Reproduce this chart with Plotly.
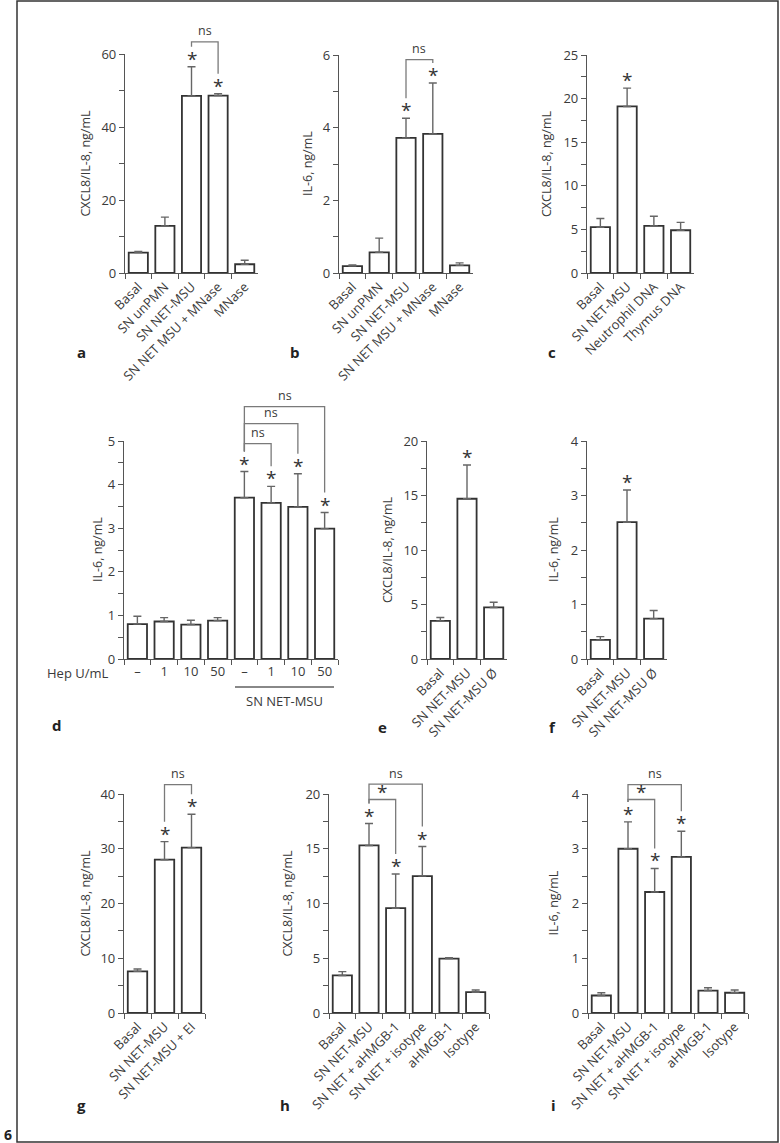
import plotly.graph_objects as go

W, H = 780, 1143

# ---------------- data ----------------
a_cats = ["Basal", "SN unPMN", "SN NET-MSU", "SN NET MSU + MNase", "MNase"]
a_vals = [5.6, 12.9, 48.5, 48.6, 2.4]
a_errs = [0.3, 2.4, 8.0, 0.5, 1.1]
a_sig = [0, 0, 1, 1, 0]

b_cats = ["Basal", "SN unPMN", "SN NET-MSU", "SN NET MSU + MNase", "MNase"]
b_vals = [0.19, 0.57, 3.72, 3.83, 0.21]
b_errs = [0.03, 0.39, 0.54, 1.40, 0.07]
b_sig = [0, 0, 1, 1, 0]

c_cats = ["Basal", "SN NET-MSU", "Neutrophil DNA", "Thymus DNA"]
c_vals = [5.25, 19.1, 5.4, 4.9]
c_errs = [1.0, 2.1, 1.1, 0.9]
c_sig = [0, 1, 0, 0]

d_cats = ["–", "1", "10", "50", "–", "1", "10", "50"]
d_vals = [0.80, 0.86, 0.79, 0.88, 3.70, 3.58, 3.49, 2.99]
d_errs = [0.18, 0.09, 0.10, 0.07, 0.60, 0.38, 0.76, 0.37]
d_sig = [0, 0, 0, 0, 1, 1, 1, 1]

e_cats = ["Basal", "SN NET-MSU", "SN NET-MSU Ø"]
e_vals = [3.5, 14.7, 4.73]
e_errs = [0.31, 3.1, 0.47]
e_sig = [0, 1, 0]

f_cats = ["Basal", "SN NET-MSU", "SN NET-MSU Ø"]
f_vals = [0.35, 2.51, 0.74]
f_errs = [0.06, 0.59, 0.15]
f_sig = [0, 1, 0]

g_cats = ["Basal", "SN NET-MSU", "SN NET-MSU + EI"]
g_vals = [7.6, 28.0, 30.2]
g_errs = [0.45, 3.3, 6.1]
g_sig = [0, 1, 1]

h_cats = ["Basal", "SN NET-MSU", "SN NET + aHMGB-1", "SN NET + isotype", "aHMGB-1", "Isotype"]
h_vals = [3.43, 15.3, 9.57, 12.5, 4.97, 1.9]
h_errs = [0.35, 2.0, 3.13, 2.7, 0.08, 0.2]
h_sig = [0, 1, 1, 1, 0, 0]

i_cats = ["Basal", "SN NET-MSU", "SN NET + aHMGB-1", "SN NET + isotype", "aHMGB-1", "Isotype"]
i_vals = [0.32, 3.0, 2.21, 2.85, 0.41, 0.37]
i_errs = [0.05, 0.49, 0.43, 0.47, 0.05, 0.05]
i_sig = [0, 1, 1, 1, 0, 0]

# brackets: (left bar, right bar, label, bracket height in data units)
a_brk = [(2, 3, "ns", 63.3)]
b_brk = [(2, 3, "ns", 5.87)]
d_brk = [(4, 5, "ns", 4.94), (4, 6, "ns", 5.40), (4, 7, "ns", 5.79)]
g_brk = [(1, 2, "ns", 41.7)]
h_brk = [(1, 3, "ns", 20.9), (1, 2, "*", 19.5)]
i_brk = [(1, 3, "ns", 4.17), (1, 2, "*", 3.90)]

y_titles = {"a": "CXCL8/IL-8, ng/mL", "b": "IL-6, ng/mL", "c": "CXCL8/IL-8, ng/mL",
            "d": "IL-6, ng/mL", "e": "CXCL8/IL-8, ng/mL", "f": "IL-6, ng/mL",
            "g": "CXCL8/IL-8, ng/mL", "h": "CXCL8/IL-8, ng/mL", "i": "IL-6, ng/mL"}

# ---------------- layout geometry (pixels) ----------------
# name: (x0, x1, ytop, ybottom, ymax, major, minor, ytitle_x, letter_x, letter_y)
geom = {
    "a": (125, 258, 54, 273, 60, 20, 10, 85, 81, 352),
    "b": (339, 473, 55, 273, 6, 2, 1, 307, 295, 352),
    "c": (587, 694, 55, 273, 25, 5, 2.5, 546, 552, 352),
    "d": (124, 338, 441, 659, 5, 1, 0.5, 97, 57, 725),
    "e": (427, 507, 441, 659, 20, 5, 2.5, 387, 382, 727),
    "f": (587, 667, 441, 659, 4, 1, 0.5, 553, 552, 727),
    "g": (124, 205, 794, 1013, 40, 10, 5, 85, 81, 1105),
    "h": (329, 489, 794, 1013, 20, 5, 2.5, 287, 285, 1105),
    "i": (588, 748, 794, 1013, 4, 1, 0.5, 553, 553, 1105),
}

panels = [
    ("a", a_cats, a_vals, a_errs, a_sig, a_brk),
    ("b", b_cats, b_vals, b_errs, b_sig, b_brk),
    ("c", c_cats, c_vals, c_errs, c_sig, []),
    ("d", d_cats, d_vals, d_errs, d_sig, d_brk),
    ("e", e_cats, e_vals, e_errs, e_sig, []),
    ("f", f_cats, f_vals, f_errs, f_sig, []),
    ("g", g_cats, g_vals, g_errs, g_sig, g_brk),
    ("h", h_cats, h_vals, h_errs, h_sig, h_brk),
    ("i", i_cats, i_vals, i_errs, i_sig, i_brk),
]

FONT = "Open Sans"
TXT = "#3a3a3a"
AXC = "#555555"
BRC = "#7a7a7a"
TICK_SIZE = 13


def px(x):
    return x / W


def py(y):
    return 1 - y / H


def unique_labels(labels):
    seen = {}
    out = []
    for lab in labels:
        n = seen.get(lab, 0)
        out.append(lab + "\u200b" * n)
        seen[lab] = n + 1
    return out


fig = go.Figure()
annotations = []
shapes = []
layout_axes = {}

for k, (name, cats, vals, errs, sig, brks) in enumerate(panels, start=1):
    x0, x1, ytop, ybot, ymax, major, minor, ytx, lx, ly = geom[name]
    xs = unique_labels(cats)
    suf = "" if k == 1 else str(k)
    xa, ya = "x" + suf, "y" + suf
    pxu = (ybot - ytop) / ymax  # pixels per data unit
    fig.add_trace(go.Bar(
        x=xs, y=vals, xaxis=xa, yaxis=ya, width=0.72,
        marker=dict(color="white", line=dict(color="#333333", width=1.8)),
        error_y=dict(type="data", array=errs, arrayminus=[0] * len(errs), symmetric=False,
                     color="#666666", thickness=1.4, width=4),
        showlegend=False, hoverinfo="skip",
    ))
    layout_axes["xaxis" + suf] = dict(
        domain=[px(x0), px(x1)], anchor=ya, type="category", tickson="boundaries",
        range=[-0.5, len(cats) - 0.5], ticks="outside", ticklen=5, tickwidth=1.2,
        tickcolor=AXC, showline=True, linecolor=AXC, linewidth=1.3, showgrid=False,
        zeroline=False, automargin=False,
        tickangle=0 if name == "d" else -45,
        tickfont=dict(family=FONT, size=TICK_SIZE, color=TXT), fixedrange=True,
    )
    layout_axes["yaxis" + suf] = dict(
        domain=[py(ybot), py(ytop)], anchor=xa, range=[0, ymax], tick0=0, dtick=major,
        ticks="outside", ticklen=5, tickwidth=1.2, tickcolor=AXC,
        minor=dict(dtick=minor, tick0=0, ticks="outside", ticklen=5, tickwidth=1.2,
                   tickcolor=AXC, showgrid=False),
        showline=True, linecolor=AXC, linewidth=1.3, showgrid=False, zeroline=False,
        automargin=False,
        tickfont=dict(family=FONT, size=TICK_SIZE, color=TXT), fixedrange=True,
    )
    # y title
    annotations.append(dict(
        text=y_titles[name], x=px(ytx), y=py((ytop + ybot) / 2), xref="paper", yref="paper",
        textangle=-90, showarrow=False, xanchor="center", yanchor="middle",
        font=dict(family=FONT, size=12.5, color=TXT)))
    # panel letter
    annotations.append(dict(
        text=f"<b>{name}</b>", x=px(lx), y=py(ly), xref="paper", yref="paper",
        showarrow=False, xanchor="center", yanchor="middle",
        font=dict(family=FONT, size=15, color="#222222")))
    # asterisks
    for j, s in enumerate(sig):
        if s:
            annotations.append(dict(
                text="*", x=j, y=vals[j] + errs[j], xref=xa, yref=ya, showarrow=False,
                xanchor="center", yanchor="bottom", yshift=-7,
                font=dict(family=FONT, size=19, color="#333333")))
    # brackets
    ydom = f"{ya} domain"
    for (l, r, lab, top) in brks:
        lb = (vals[l] + errs[l]) + 20 / pxu
        rb = (vals[r] + errs[r]) + 20 / pxu
        path = (f"M {l},{lb / ymax} L {l},{top / ymax} L {r},{top / ymax} L {r},{rb / ymax}")
        shapes.append(dict(type="path", path=path, xref=xa, yref=ydom,
                           line=dict(color=BRC, width=1.3)))
        if lab == "ns":
            annotations.append(dict(
                text="ns", x=(l + r) / 2, y=top / ymax, xref=xa, yref=ydom, showarrow=False,
                xanchor="center", yanchor="middle", yshift=11,
                font=dict(family=FONT, size=12.5, color=TXT)))
        else:
            annotations.append(dict(
                text="*", x=(l + r) / 2, y=top / ymax, xref=xa, yref=ydom, showarrow=False,
                xanchor="center", yanchor="bottom", yshift=-8,
                font=dict(family=FONT, size=19, color="#333333")))

# panel d extras
annotations.append(dict(text="Hep U/mL", x=px(110), y=py(673), xref="paper", yref="paper",
                        showarrow=False, xanchor="right", yanchor="middle",
                        font=dict(family=FONT, size=TICK_SIZE, color=TXT)))
shapes.append(dict(type="line", xref="x4", yref="paper", x0=3.65, x1=7.35,
                   y0=py(687), y1=py(687), line=dict(color="#888888", width=1.8)))
annotations.append(dict(text="SN NET-MSU", x=5.5, y=py(701), xref="x4", yref="paper",
                        showarrow=False, xanchor="center", yanchor="middle",
                        font=dict(family=FONT, size=TICK_SIZE, color=TXT)))

# frame and figure number
shapes.append(dict(type="rect", xref="paper", yref="paper", x0=px(17), x1=px(778),
                   y0=py(1142), y1=py(1), line=dict(color="#333333", width=1.5)))
annotations.append(dict(text="<b>6</b>", x=px(8), y=py(1134), xref="paper", yref="paper",
                        showarrow=False, xanchor="center", yanchor="middle",
                        font=dict(family=FONT, size=14, color="#222222")))

fig.update_layout(
    width=W, height=H, margin=dict(l=0, r=0, t=0, b=0, pad=0, autoexpand=False),
    paper_bgcolor="white", plot_bgcolor="white",
    annotations=annotations, shapes=shapes, showlegend=False,
    **layout_axes,
)

fig.write_html(
    "out.html", config={"displayModeBar": False},
    post_script="document.body.style.margin='0px';document.body.style.overflow='hidden';",
)
